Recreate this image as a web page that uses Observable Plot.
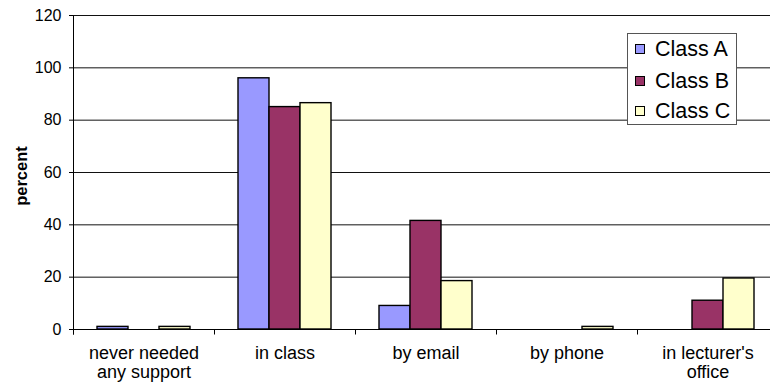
<!DOCTYPE html>
<html>
<head>
<meta charset="utf-8">
<script src="https://cdn.jsdelivr.net/npm/d3@7"></script>
<script src="https://cdn.jsdelivr.net/npm/@observablehq/plot@0.6"></script>
<style>
  body { margin: 0; background: #fff; }
  #wrap {
    position: relative; width: 770px; height: 383px; overflow: hidden;
    font-family: "Liberation Sans", Arial, sans-serif; color: #000;
  }
  #chart svg { max-width: none !important; }
  #ylabel {
    position: absolute; left: 21px; top: 176px;
    transform: translate(-50%, -50%) rotate(-90deg);
    font-weight: bold; font-size: 16.5px; white-space: nowrap;
  }
  #legend {
    position: absolute; left: 627px; top: 33px; width: 110px; height: 92px;
    box-sizing: border-box; border: 1px solid #555; background: #fff;
  }
  #legend .row { position: absolute; left: 7px; height: 24px; display: flex; align-items: center; }
  #legend .sw { width: 10px; height: 10px; box-sizing: border-box; border: 1px solid #000; margin-right: 10px; }
  #legend .lab { font-size: 21.5px; line-height: 24px; }
</style>
</head>
<body>
<div id="wrap">
  <div id="chart"></div>
  <div id="ylabel">percent</div>
  <div id="legend"></div>
</div>
<script>
// support channels, one bar group per channel
const categories = ["never needed\nany support", "in class", "by email", "by phone", "in lecturer's\noffice"];
const classes = ["Class A", "Class B", "Class C"];
const colors = ["#9999FF", "#993366", "#FFFFCC"];

// percent of each class using the channel
const classA = [1, 96, 9, 0, 0];
const classB = [0, 85, 41.5, 0, 11];
const classC = [1, 86.5, 18.5, 1, 19.5];

const yTicks = [0, 20, 40, 60, 80, 100, 120];

const series = [classA, classB, classC];
const rows = [];
categories.forEach((cat, i) => {
  classes.forEach((cls, j) => {
    const v = series[j][i];
    if (v > 0) rows.push({category: cat, cls, value: v});
  });
});

const chart = Plot.plot({
  width: 780,
  height: 383,
  marginLeft: 72,
  marginRight: 1,
  marginTop: 15,
  marginBottom: 54,
  style: {fontFamily: "'Liberation Sans', Arial, sans-serif", color: "#000", background: "#fff", maxWidth: "none"},
  fx: {domain: categories, padding: 0, label: null},
  x: {domain: classes, paddingInner: 0, paddingOuter: 0.75, axis: null},
  y: {domain: [0, 120], label: null},
  color: {domain: classes, range: colors},
  marks: [
    Plot.gridY(yTicks.slice(1), {stroke: "#111", strokeOpacity: 1}),
    Plot.barY(rows, {fx: "category", x: "cls", y: "value", fill: "cls", stroke: "#000", strokeWidth: 1.4}),
    Plot.ruleY([0], {stroke: "#000"}),
    Plot.axisY({ticks: yTicks, tickSize: 4, tickPadding: 8, fontSize: 16, label: null, stroke: "#000"}),
    Plot.axisFx({anchor: "bottom", tickSize: 0, tickPadding: 15, fontSize: 18, lineHeight: 1.1, label: null})
  ]
});
document.getElementById("chart").appendChild(chart);

// category boundary ticks and the vertical axis line, placed from the plot's scales
const fx = chart.scale("fx");
const y = chart.scale("y");
const svg = d3.select(chart);
const y0 = y.apply(0), yTop = y.apply(120);
const bounds = categories.map(c => fx.apply(c));
bounds.push(fx.apply(categories[categories.length - 1]) + fx.bandwidth);
const g = svg.append("g").attr("stroke", "#000").attr("transform", "translate(0.5,0.5)");
g.selectAll("line.tick").data(bounds).join("line")
  .attr("x1", d => d).attr("x2", d => d)
  .attr("y1", y0).attr("y2", y0 + 5);
g.append("line")
  .attr("x1", bounds[0]).attr("x2", bounds[0])
  .attr("y1", yTop).attr("y2", y0 + 5);

// legend box inside the plot area
const legend = d3.select("#legend");
const rowTops = [3, 35, 65];
classes.forEach((cls, i) => {
  const r = legend.append("div").attr("class", "row").style("top", rowTops[i] + "px");
  r.append("div").attr("class", "sw").style("background", colors[i]);
  r.append("div").attr("class", "lab").text(cls);
});
</script>
</body>
</html>
